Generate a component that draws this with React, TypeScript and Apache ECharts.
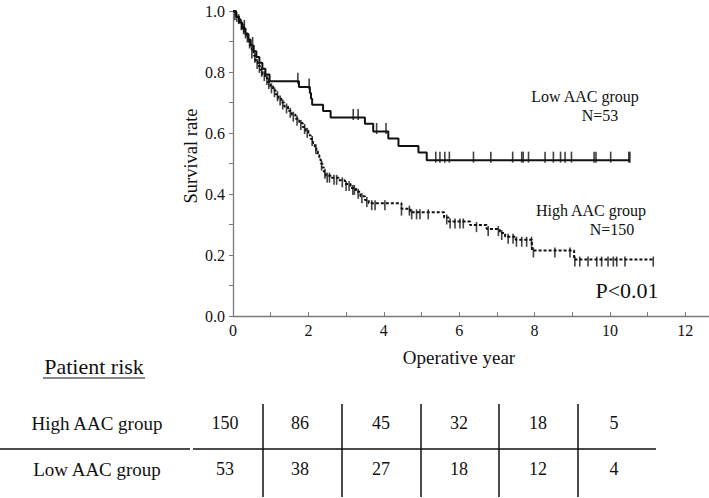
import React, { useEffect, useRef } from 'react';
import * as echarts from 'echarts';

// Kaplan-Meier step points [year, survival after event]
const lowSteps: [number, number][] = [
  [0, 1], [0.08, 0.981], [0.16, 0.962], [0.24, 0.943], [0.33, 0.925], [0.41, 0.906],
  [0.47, 0.887], [0.55, 0.868], [0.62, 0.849], [0.7, 0.83], [0.78, 0.811], [0.86, 0.792],
  [0.97, 0.77], [1.75, 0.751], [2.04, 0.731], [2.07, 0.712], [2.1, 0.693], [2.39, 0.672],
  [2.59, 0.651], [3.5, 0.63], [3.72, 0.605], [4.12, 0.582], [4.39, 0.557], [4.92, 0.536],
  [5.14, 0.511], [10.53, 0.511],
];
const lowCensor: number[] = [
  0.3, 0.52, 1.72, 2.02, 3.19, 3.32, 3.81, 4.06, 5.38, 5.49, 5.62, 5.74, 6.38, 6.84, 7.42,
  7.66, 7.7, 7.84, 8.28, 8.5, 8.69, 8.81, 8.98, 9.58, 9.63, 10.02, 10.5, 10.53,
];
const highSteps: [number, number][] = [
  [0, 1], [0.04, 0.993], [0.08, 0.987], [0.12, 0.98], [0.16, 0.973], [0.2, 0.96], [0.25, 0.947],
  [0.3, 0.933], [0.35, 0.92], [0.4, 0.9], [0.45, 0.887], [0.5, 0.867], [0.55, 0.853], [0.6, 0.833],
  [0.66, 0.82], [0.72, 0.807], [0.78, 0.793], [0.85, 0.78], [0.92, 0.767], [0.99, 0.753],
  [1.06, 0.74], [1.13, 0.727], [1.2, 0.713], [1.28, 0.7], [1.36, 0.687], [1.46, 0.673],
  [1.56, 0.66], [1.66, 0.647], [1.76, 0.633], [1.85, 0.62], [1.93, 0.607], [2.0, 0.593],
  [2.06, 0.58], [2.12, 0.567], [2.17, 0.553], [2.21, 0.54], [2.25, 0.527], [2.29, 0.513],
  [2.33, 0.5], [2.37, 0.487], [2.41, 0.473], [2.46, 0.46], [2.62, 0.453], [2.8, 0.445],
  [2.97, 0.433], [3.12, 0.42], [3.26, 0.407], [3.38, 0.393], [3.5, 0.38], [3.6, 0.37],
  [4.47, 0.352], [4.7, 0.34], [5.6, 0.323], [5.72, 0.31], [6.29, 0.298], [6.73, 0.285],
  [7.08, 0.272], [7.22, 0.26], [7.5, 0.25], [7.93, 0.215], [9.05, 0.185], [11.15, 0.185],
];
const highCensor: number[] = [
  0.05, 0.1, 0.15, 0.22, 0.28, 0.33, 0.38, 0.44, 0.5, 0.58, 0.64, 0.7, 0.76, 0.83, 0.9, 0.95,
  1.02, 1.1, 1.18, 1.25, 1.32, 1.42, 1.52, 1.6, 1.7, 1.8, 1.9, 1.97, 2.1, 2.2, 2.35, 2.44, 2.5,
  2.56, 2.68, 2.75, 2.9, 3.0, 3.08, 3.18, 3.22, 3.32, 3.42, 3.55, 3.68, 3.77, 4.03, 4.47, 4.68,
  4.74, 4.87, 4.96, 5.18, 5.67, 5.76, 5.89, 6.02, 6.11, 6.46, 6.77, 7.04, 7.13, 7.3, 7.43, 7.52,
  7.66, 7.79, 7.92, 7.97, 8.54, 8.94, 9.07, 9.2, 9.42, 9.65, 9.78, 9.95, 10.09, 10.18, 10.4, 11.15,
];

const xLabelValues = [0, 2, 4, 6, 8, 10, 12];
const riskGroups = ['High AAC group', 'Low AAC group'];
const riskHigh = [150, 86, 45, 32, 18, 5];
const riskLow = [53, 38, 27, 18, 12, 4];

const FONT = 'Liberation Serif, Times New Roman, serif';
const INK = '#111';

function survivalAt(steps: [number, number][], t: number) {
  let s = steps[0][1];
  for (const [ti, si] of steps) {
    if (ti <= t) s = si;
    else break;
  }
  return s;
}

export default function App() {
  const ref = useRef<HTMLDivElement>(null);
  useEffect(() => {
    if (!ref.current) return;
    const chart = echarts.init(ref.current, undefined, { renderer: 'svg' });

    const colX = [225, 300, 381, 459, 538, 614];
    const vLines = [263, 342, 421, 499, 578];
    const rowY = [423, 469];
    const graphic: any[] = [];
    const txt = (text: string, x: number, y: number, size: number, extra: any = {}) => ({
      type: 'text',
      x,
      y,
      silent: true,
      ...extra,
      style: {
        text,
        fontFamily: FONT,
        fontSize: size,
        fill: INK,
        textAlign: 'center',
        textVerticalAlign: 'middle',
        align: 'center',
        verticalAlign: 'middle',
      },
    });
    graphic.push(txt('Survival rate', 191, 156, 18.5, { rotation: Math.PI / 2 }));
    graphic.push(txt('Operative year', 459, 357, 19));
    graphic.push(txt('Low AAC group', 585, 96, 16));
    graphic.push(txt('N=53', 600, 115, 16));
    graphic.push(txt('High AAC group', 591, 210, 16));
    graphic.push(txt('N=150', 612, 229, 16));
    graphic.push(txt('P<0.01', 627, 290, 22));
    graphic.push(txt('Patient risk', 94, 366, 22));
    graphic.push({ type: 'line', silent: true, shape: { x1: 43, y1: 378, x2: 145, y2: 378 }, style: { stroke: INK, lineWidth: 1.2 } });
    riskGroups.forEach((g, i) => graphic.push(txt(g, 97, rowY[i], 19)));
    riskHigh.forEach((v, i) => graphic.push(txt(String(v), colX[i], rowY[0], 18)));
    riskLow.forEach((v, i) => graphic.push(txt(String(v), colX[i], rowY[1], 18)));
    graphic.push({ type: 'line', silent: true, shape: { x1: 0, y1: 449, x2: 190, y2: 449 }, style: { stroke: INK, lineWidth: 1.5 } });
    graphic.push({ type: 'line', silent: true, shape: { x1: 193, y1: 449, x2: 656, y2: 449 }, style: { stroke: INK, lineWidth: 1.5 } });
    vLines.forEach((x) =>
      graphic.push({ type: 'line', silent: true, shape: { x1: x, y1: 404, x2: x, y2: 497 }, style: { stroke: INK, lineWidth: 1.5 } })
    );

    const axisGray = '#7a7a7a';
    chart.setOption({
      animation: false,
      backgroundColor: '#fff',
      grid: { left: 233, top: 11, height: 305, width: 490, outerBoundsMode: 'none', containLabel: false },
      xAxis: {
        type: 'value',
        min: 0,
        max: 13,
        interval: 1,
        axisLine: { lineStyle: { color: axisGray, width: 1.3 } },
        axisTick: { inside: true, length: 4, lineStyle: { color: axisGray } },
        splitLine: { show: false },
        axisLabel: {
          color: INK,
          fontFamily: FONT,
          fontSize: 16,
          margin: 6,
          formatter: (v: number) => (xLabelValues.includes(v) ? String(v) : ''),
        },
      },
      yAxis: {
        type: 'value',
        min: 0,
        max: 1,
        interval: 0.1,
        axisLine: { show: true, lineStyle: { color: axisGray, width: 1.3 } },
        axisTick: { show: true, length: 4, lineStyle: { color: axisGray } },
        splitLine: { show: false },
        axisLabel: {
          color: INK,
          fontFamily: FONT,
          fontSize: 16,
          margin: 8,
          formatter: (v: number) => {
            const k = Math.round(v * 10);
            return k % 2 === 0 ? (k / 10).toFixed(1) : '';
          },
        },
      },
      series: [
        {
          type: 'line',
          step: 'end',
          data: lowSteps,
          symbol: 'none',
          lineStyle: { color: INK, width: 2 },
        },
        {
          type: 'line',
          step: 'end',
          data: highSteps,
          symbol: 'none',
          lineStyle: { color: INK, width: 2, type: [3, 2] },
        },
        {
          type: 'scatter',
          data: lowCensor.map((t) => [t, survivalAt(lowSteps, t)]),
          symbol: 'rect',
          symbolSize: [1.6, 11],
          symbolOffset: [0, -3],
          itemStyle: { color: INK },
        },
        {
          type: 'scatter',
          data: highCensor.map((t) => [t, survivalAt(highSteps, t)]),
          symbol: 'rect',
          symbolSize: [1.6, 10],
          symbolOffset: [0, 2],
          itemStyle: { color: INK },
        },
      ],
      graphic,
    });
    return () => chart.dispose();
  }, []);
  return (
    <div
      ref={ref}
      style={{ position: 'absolute', left: 0, top: 0, width: 709, height: 498, background: '#fff' }}
    />
  );
}
